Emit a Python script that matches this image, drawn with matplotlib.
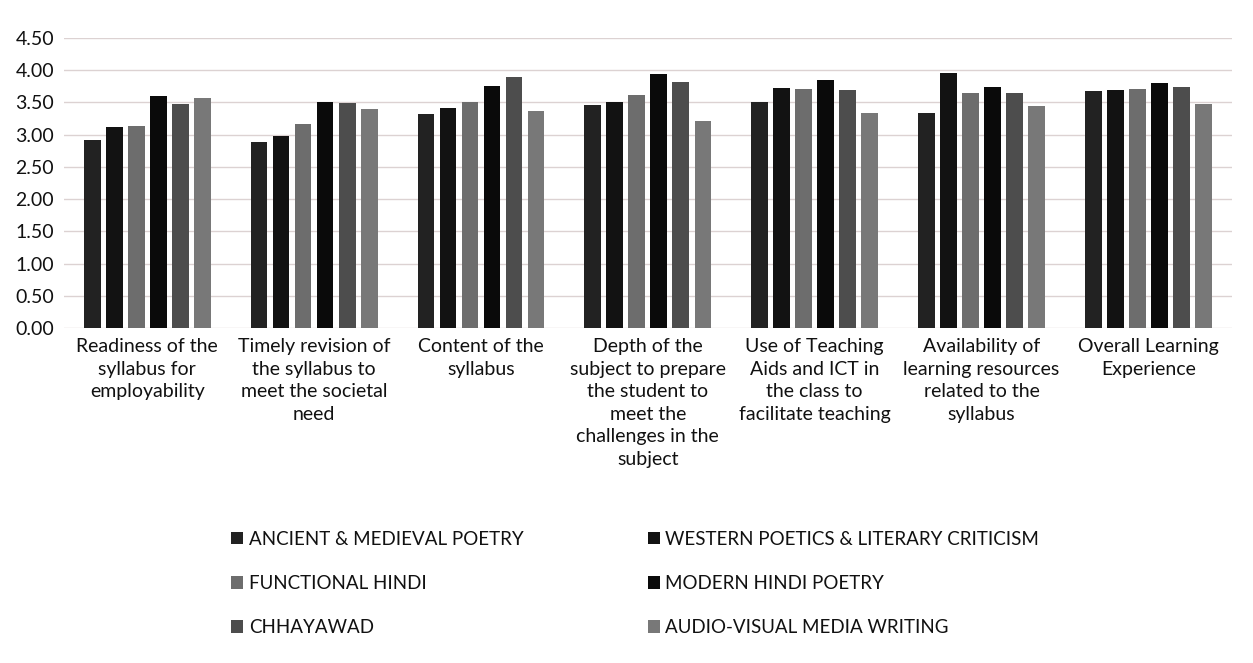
import numpy as np
import matplotlib
matplotlib.use('Agg')
import matplotlib.pyplot as plt

plt.rcParams['font.family'] = ['Lato', 'DejaVu Sans']

# aspects rated (x categories)
categories = [
    'Readiness of the\nsyllabus for\nemployability',
    'Timely revision of\nthe syllabus to\nmeet the societal\nneed',
    'Content of the\nsyllabus',
    'Depth of the\nsubject to prepare\nthe student to\nmeet the\nchallenges in the\nsubject',
    'Use of Teaching\nAids and ICT in\nthe class to\nfacilitate teaching',
    'Availability of\nlearning resources\nrelated to the\nsyllabus',
    'Overall Learning\nExperience',
]

# mean scores per paper (approx)
ancient = [2.92, 2.89, 3.32, 3.46, 3.50, 3.34, 3.68]
western = [3.12, 2.98, 3.41, 3.51, 3.72, 3.95, 3.69]
functional = [3.14, 3.16, 3.51, 3.61, 3.71, 3.65, 3.70]
modern = [3.60, 3.50, 3.75, 3.94, 3.85, 3.74, 3.80]
chhayawad = [3.47, 3.49, 3.90, 3.82, 3.69, 3.64, 3.74]
audio_visual = [3.56, 3.39, 3.37, 3.21, 3.34, 3.45, 3.48]

series_names = ['ANCIENT & MEDIEVAL POETRY', 'WESTERN POETICS & LITERARY CRITICISM',
                'FUNCTIONAL HINDI', 'MODERN HINDI POETRY', 'CHHAYAWAD',
                'AUDIO-VISUAL MEDIA WRITING']
series_vals = [ancient, western, functional, modern, chhayawad, audio_visual]
colors = ['#222222', '#121212', '#6d6d6d', '#0a0a0a', '#4d4d4d', '#787878']

fig = plt.figure(figsize=(12.53, 6.63), dpi=100)
ax = fig.add_axes([0.051, 0.505, 0.932, 0.438])

x = np.arange(len(categories))
step = 0.132
width = 0.1
bars = []
for i, (name, vals) in enumerate(zip(series_names, series_vals)):
    b = ax.bar(x + (i - 2.5) * step, vals, width, color=colors[i], label=name, zorder=3)
    bars.append(b)

ax.set_xlim(-0.5, len(categories) - 0.5)
ax.set_ylim(0, 4.5)
ax.set_yticks(np.arange(0, 4.51, 0.5))
ax.set_yticklabels(['%.2f' % v for v in np.arange(0, 4.51, 0.5)], fontsize=14, color='#111111')
ax.yaxis.grid(True, color='#dcd2d2', linewidth=1.0, zorder=0)
ax.set_xticks(x)
ax.set_xticklabels(categories, fontsize=14, linespacing=1.4, va='top', color='#111111')
ax.tick_params(axis='both', length=0, pad=7)
for s in ax.spines.values():
    s.set_visible(False)

# legend: left column 1,3,5 ; right column 2,4,6
order = [0, 2, 4, 1, 3, 5]
fig.legend([bars[i] for i in order], [series_names[i] for i in order],
           loc='upper center', bbox_to_anchor=(0.507, 0.225), ncol=2, frameon=False,
           fontsize=13.5, handlelength=0.65, handleheight=0.65, handletextpad=0.3,
           labelspacing=1.45, columnspacing=6.6, labelcolor='#111111')

fig.savefig('out.png', dpi=100)
